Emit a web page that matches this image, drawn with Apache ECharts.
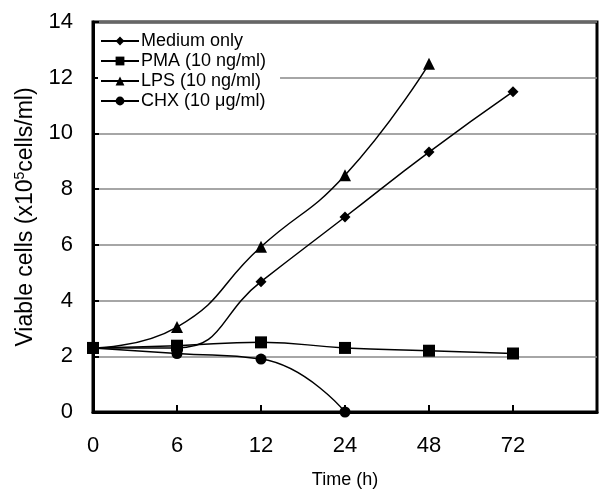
<!DOCTYPE html>
<html>
<head>
<meta charset="utf-8">
<script src="https://cdn.jsdelivr.net/npm/echarts@6/dist/echarts.min.js"></script>
<style>
html,body{margin:0;padding:0;background:#fff;}
#main{width:600px;height:494px;}
</style>
</head>
<body>
<div id="main"></div>
<script>
// time points (h), drawn evenly spaced like the original
var timeLabels = ['0', '6', '12', '24', '48', '72'];
var mediumOnly = [2.3, 2.3, 4.68, 7.0, 9.33, 11.5];
var pma = [2.3, 2.38, 2.5, 2.3, 2.2, 2.1];
var lps = [2.3, 3.05, 5.93, 8.5, 12.5];
var chx = [2.3, 2.1, 1.9, 0];
var yTicks = [0, 2, 4, 6, 8, 10, 12, 14];

function pairs(arr){
	var out = [];
	for(var i=0;i<arr.length;i++){
		out.push([i, arr[i]]);
	}
	return out;
}

function mkSeries(name, arr, symbol, size){
	return {
		name: name,
		type: 'line',
		data: pairs(arr),
		smooth: 0.5,
		symbol: symbol,
		symbolSize: size,
		lineStyle: {color: '#000', width: 1.5},
		itemStyle: {color: '#000'},
		z: 3
	};
}

var myChart = echarts.init(document.getElementById('main'));
var font = 'Liberation Sans, Arial, sans-serif';
var option = {
	backgroundColor: '#fff',
	animation: false,
	textStyle: {fontFamily: font, color: '#000'},
	grid: {
		left: 93, right: -8, top: 22, bottom: 80,
		show: true, borderColor: '#000', borderWidth: 3
	},
	legend: {
		left: 98, top: 30,
		orient: 'vertical',
		itemWidth: 38, itemHeight: 11, itemGap: 2,
		backgroundColor: '#fff',
		padding: [2, 14, 2, 2],
		textStyle: {fontFamily: font, fontSize: 18, color: '#000', padding: [0, 0, 0, -3]},
		data: ['Medium only', 'PMA (10 ng/ml)', 'LPS (10 ng/ml)', 'CHX (10 \u03bcg/ml)']
	},
	xAxis: {
		type: 'value', min: 0, max: 6, interval: 1,
		name: 'Time (h)', nameLocation: 'middle', nameGap: 59,
		nameTextStyle: {fontFamily: font, fontSize: 18, color: '#000'},
		axisLine: {lineStyle: {color: '#000', width: 3}},
		axisTick: {inside: true, length: 7, lineStyle: {color: '#000', width: 2}},
		axisLabel: {
			margin: 23, fontSize: 22, color: '#000', fontFamily: font,
			formatter: function(v){ return timeLabels[v] !== undefined ? timeLabels[v] : ''; }
		},
		splitLine: {show: false}
	},
	yAxis: {
		type: 'value', min: yTicks[0], max: yTicks[yTicks.length-1], interval: 2,
		name: 'Viable cells (x10{sup|5}cells/ml)', nameLocation: 'middle', nameGap: 55,
		nameTextStyle: {
			fontFamily: font, fontSize: 23, color: '#000',
			rich: {sup: {fontFamily: font, fontSize: 14, color: '#000', padding: [0, 0, 11, 0]}}
		},
		axisLine: {show: true, lineStyle: {color: '#000', width: 3}},
		axisTick: {show: true, inside: true, length: 6, lineStyle: {color: '#000', width: 2}},
		axisLabel: {margin: 20, fontSize: 22, color: '#000', fontFamily: font},
		splitLine: {show: true, lineStyle: {color: '#888', width: 1.5}}
	},
	series: [
		mkSeries('Medium only', mediumOnly, 'diamond', 11),
		mkSeries('PMA (10 ng/ml)', pma, 'rect', 12),
		mkSeries('LPS (10 ng/ml)', lps, 'triangle', 12),
		mkSeries('CHX (10 \u03bcg/ml)', chx, 'circle', 11)
	]
};
myChart.setOption(option);
</script>
</body>
</html>
